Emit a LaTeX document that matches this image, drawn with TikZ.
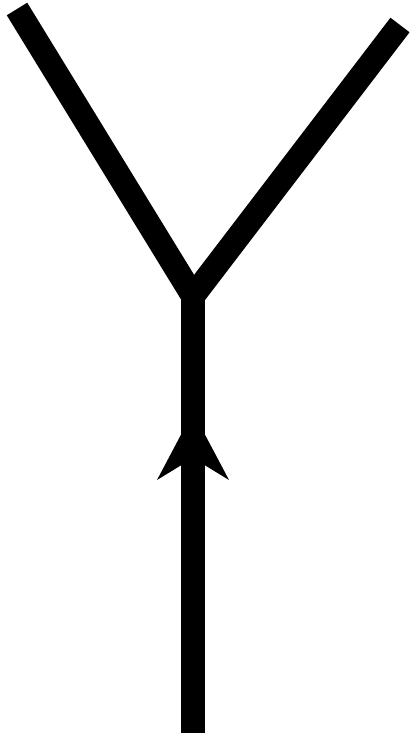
\documentclass[tikz,border=0pt]{standalone}
\begin{document}
\begin{tikzpicture}[x=1pt,y=-1pt,
  wire/.style={line width=24pt,line cap=butt,line join=miter,black},
  tipfill/.style={fill=black,draw=none}]
\useasboundingbox (0,0) rectangle (411,733);
\coordinate (L) at (17,9);
\coordinate (R) at (400,25);
\coordinate (J) at (193,296);
\coordinate (B) at (193,733);
\coordinate (T) at (193,412);
\coordinate (BL) at (157,480);
\coordinate (N) at (193,458);
\coordinate (BR) at (229,480);
\draw[wire] (J) -- (B);
\draw[wire] (L) -- (J) -- (R);
\fill[tipfill] (T) -- (BL) -- (N) -- (BR) -- cycle;
\end{tikzpicture}
\end{document}
